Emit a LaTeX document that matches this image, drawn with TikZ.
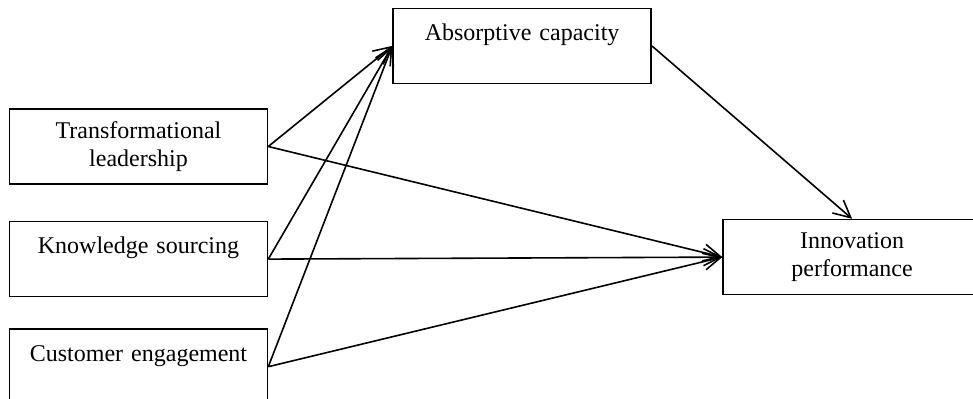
\documentclass[tikz,border=0pt]{standalone}
\usepackage{fontspec}
\setmainfont{Liberation Serif}
\usepackage{tikz}
\usetikzlibrary{arrows.meta,positioning}
\tikzset{
  var/.style={draw,line width=0.8pt,minimum width=129pt,minimum height=37.5pt,text width=125pt,inner sep=0pt,align=center,font=\fontsize{12}{13.6}\selectfont},
  arrow/.style={-{Straight Barb[length=8.5pt,width=8.5pt,line width=0.8pt]},line width=0.8pt},
}
\begin{document}
\begin{tikzpicture}
    \useasboundingbox (-69.25pt,-125.75pt) rectangle (417.25pt,73.25pt);
    \clip (-69.25pt,-125.75pt) rectangle (417.25pt,73.25pt);
    \node[var] (tl) at (0,0) {Transformational\\leadership};
    \node[var,below=18pt of tl] (ks) {Knowledge sourcing\\~};
    \node[var,below=15.5pt of ks] (ce) {Customer engagement\\~};
    \node[var,above right=12pt and 62pt of tl] (ac) {Absorptive capacity\\~};
    \node[var,right=227pt of ks,yshift=1pt] (ip) {Innovation\\performance};
    \foreach \x in {tl,ks,ce} {
      \draw[arrow] (\x.east) -- (ac.west);
      \draw[arrow] (\x.east) -- (ip.west);
    }
    \draw[arrow] (ac.east) -- (ip.north);
  \end{tikzpicture}
\end{document}
